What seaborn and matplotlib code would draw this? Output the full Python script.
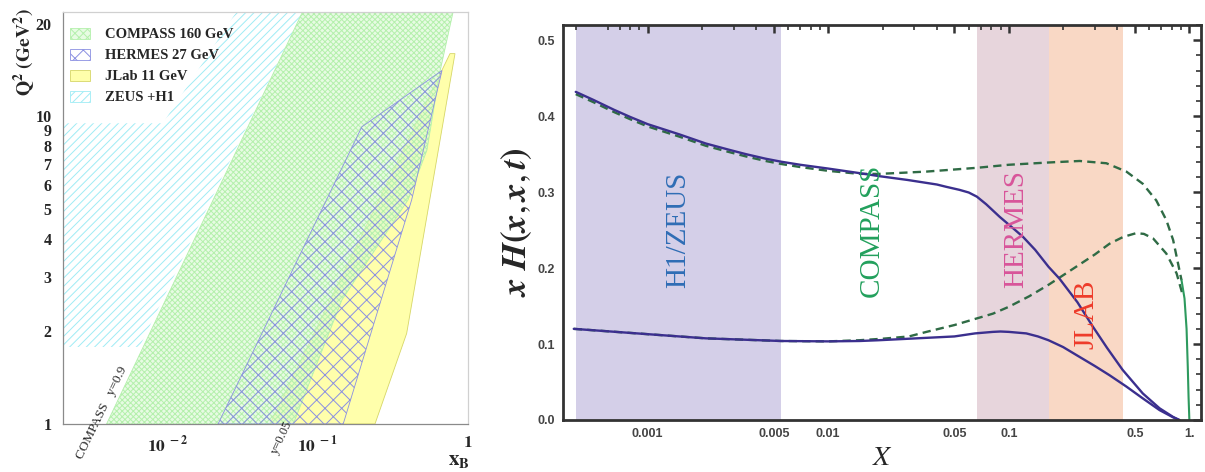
import numpy as np
import pandas as pd
import matplotlib
matplotlib.use("Agg")
import matplotlib.pyplot as plt
from matplotlib.patches import Polygon, Patch
from matplotlib.ticker import FixedLocator, NullFormatter, MultipleLocator
import seaborn as sns

# ---------------- left panel: kinematic coverage (x_B, Q^2) ----------------
zeus_x = [0.002, 0.0065, 0.0794, 0.0288, 0.0093, 0.002]
zeus_q2 = [1.78, 1.78, 21.9, 21.9, 9.5, 9.5]

compass_x = [0.00392, 0.0794, 0.80, 0.653, 0.535, 0.40, 0.145, 0.0688]
compass_q2 = [1.0, 21.9, 21.9, 13.96, 7.77, 5.35, 2.53, 1.0]

hermes_x = [0.0217, 0.197, 0.674, 0.423, 0.148]
hermes_q2 = [1.0, 9.25, 14.1, 5.35, 1.0]

jlab_x = [0.0481, 0.762, 0.823, 0.392, 0.241]
jlab_q2 = [1.0, 16.0, 16.0, 1.97, 1.0]

legend_labels = ["COMPASS 160 GeV", "HERMES 27 GeV", "JLab 11 GeV", "ZEUS +H1"]

# ---------------- right panel: x H(x,x,t) ----------------
bands = {"H1/ZEUS": (4.0e-4, 0.0055), "HERMES": (0.0666, 0.166), "JLAB": (0.166, 0.427)}

up_x = [4.0e-4, 5e-4, 6.5e-4, 8e-4, 0.001, 0.0015, 0.0021, 0.0028, 0.0035, 0.0045,
        0.0055, 0.007, 0.01, 0.0149, 0.0192, 0.0275, 0.04, 0.045, 0.0533, 0.06,
        0.0666, 0.075, 0.089, 0.105, 0.12, 0.14, 0.166, 0.191, 0.24, 0.292,
        0.35, 0.427, 0.552, 0.684, 0.813, 0.88]
up_y = [0.432, 0.4215, 0.4085, 0.399, 0.3895, 0.376, 0.364, 0.356, 0.350, 0.344,
        0.340, 0.336, 0.331, 0.325, 0.321, 0.316, 0.310, 0.307, 0.303, 0.2995,
        0.294, 0.284, 0.2675, 0.253, 0.241, 0.224, 0.2017, 0.186, 0.155, 0.123,
        0.095, 0.066, 0.035, 0.0154, 0.004, 0.0]

up_dash_x = [4.0e-4, 5e-4, 6.5e-4, 8e-4, 0.001, 0.0015, 0.0021, 0.0028, 0.0035, 0.0045,
             0.0055, 0.007, 0.01, 0.0149, 0.0192, 0.0349, 0.0666, 0.1, 0.166, 0.247,
             0.347, 0.448, 0.552, 0.656, 0.746, 0.813, 0.905]
up_dash_y = [0.429, 0.4185, 0.4055, 0.396, 0.3865, 0.373, 0.361, 0.353, 0.347, 0.341,
             0.337, 0.333, 0.328, 0.324, 0.324, 0.327, 0.332, 0.336, 0.339, 0.341,
             0.338, 0.327, 0.311, 0.289, 0.263, 0.237, 0.184]

low_x = [3.9e-4, 0.001, 0.0021, 0.0055, 0.01, 0.0149, 0.019, 0.028, 0.05, 0.065,
         0.0817, 0.09, 0.1, 0.125, 0.145, 0.166, 0.2, 0.237, 0.3, 0.361,
         0.448, 0.552, 0.684, 0.813, 0.88]
low_y = [0.120, 0.113, 0.1075, 0.104, 0.1035, 0.104, 0.105, 0.107, 0.110, 0.114,
         0.116, 0.1165, 0.116, 0.114, 0.110, 0.105, 0.096, 0.0855, 0.071, 0.059,
         0.044, 0.0285, 0.013, 0.0035, 0.0]

low_dash_x = [3.9e-4, 0.001, 0.0021, 0.0055, 0.01, 0.0149, 0.02, 0.028, 0.035, 0.05,
              0.0817, 0.1, 0.13, 0.166, 0.237, 0.3, 0.361, 0.43, 0.508, 0.56,
              0.63, 0.746, 0.85, 0.925]
low_dash_y = [0.120, 0.113, 0.1075, 0.104, 0.1035, 0.105, 0.107, 0.110, 0.116, 0.125,
              0.140, 0.149, 0.163, 0.178, 0.202, 0.218, 0.232, 0.241, 0.246, 0.245,
              0.239, 0.219, 0.193, 0.162]

end_x = [0.905, 0.94, 0.965, 0.98, 0.99, 1.0]
end_y = [0.184, 0.160, 0.120, 0.070, 0.030, 0.0]

band_colors = {"H1/ZEUS": "#d4cfe8", "HERMES": "#e7d5dc", "JLAB": "#f9d8c5"}
labels = [("H1/ZEUS", 0.00147, 0.25, "#2f6db5"),
          ("COMPASS", 0.0175, 0.25, "#22a05c"),
          ("HERMES", 0.110, 0.251, "#d8559a"),
          ("JLAB", 0.268, 0.139, "#ee3b2a")]

sns.set_theme(style="white")
plt.rcParams["font.family"] = ["Liberation Serif", "DejaVu Serif"]
plt.rcParams["mathtext.fontset"] = "stix"
plt.rcParams["hatch.linewidth"] = 0.7

W, H = 1205, 472
fig = plt.figure(figsize=(W / 100, H / 100), dpi=100)


def px_box(x0, y0, x1, y1):
    return [x0 / W, 1 - y1 / H, (x1 - x0) / W, (y1 - y0) / H]


# ---------- left ----------
axl = fig.add_axes(px_box(62.7, 11.7, 467.7, 424))
axl.set_xscale("log")
axl.set_yscale("log")
axl.set_xlim(0.002, 1)
axl.set_ylim(1, 21.9)

styles = {
    "zeus": dict(facecolor="none", edgecolor="#9fecf5", hatch="////", linewidth=0),
    "jlab": dict(facecolor="#ffff9c", edgecolor="#cfcf55", alpha=0.85, linewidth=0.6),
    "compass": dict(facecolor=(0.86, 0.98, 0.83, 0.65), edgecolor="#b4f0ac", hatch="xxxxxx", linewidth=0.6),
    "hermes": dict(facecolor="none", edgecolor="#8a8fe2", hatch="xx", linewidth=0.6),
}
for key, xs, qs in [("zeus", zeus_x, zeus_q2), ("jlab", jlab_x, jlab_q2),
                    ("compass", compass_x, compass_q2), ("hermes", hermes_x, hermes_q2)]:
    axl.add_patch(Polygon(np.column_stack([xs, qs]), closed=True, **styles[key]))

for s in ["top", "right"]:
    axl.spines[s].set_color("#d0d0d0")
for s in ["left", "bottom"]:
    axl.spines[s].set_color("#8a8a8a")
for s in axl.spines.values():
    s.set_linewidth(0.9)

axl.set_yticks([1, 10], labels=["1", "10"])
axl.set_yticks([2, 3, 4, 5, 6, 7, 8, 9, 20], minor=True,
               labels=["2", "3", "4", "5", "6", "7", "8", "9", "20"])
axl.set_xticks([0.01, 0.1, 1], labels=[r"$\mathbf{10^{\ -2}}$", r"$\mathbf{10^{\ -1}}$", r"$\mathbf{1}$"])
xminor = [m * 10.0 ** k for k in (-3, -2, -1) for m in range(2, 10) if 0.002 <= m * 10.0 ** k <= 1]
axl.xaxis.set_minor_locator(FixedLocator(xminor))
axl.xaxis.set_minor_formatter(NullFormatter())
axl.tick_params(axis="y", which="major", direction="in", length=16, width=0.8, color="#999999", pad=8)
axl.tick_params(axis="y", which="minor", direction="in", length=8, width=0.8, color="#999999", pad=8)
axl.tick_params(axis="x", which="major", direction="in", length=17, width=0.8, color="#bbbbbb", pad=8)
axl.tick_params(axis="x", which="minor", direction="in", length=8, width=0.8, color="#bbbbbb")
for lab in axl.get_yticklabels(which="both"):
    lab.set_fontweight("bold")
    lab.set_fontsize(11.5)
for lab in axl.get_xticklabels():
    lab.set_fontsize(12.5)

handles = [Patch(**{k: v for k, v in styles[s].items() if k != "linewidth"}, linewidth=0.6)
           for s in ["compass", "hermes", "jlab", "zeus"]]
handles[0].set_hatch("xxxx")
leg = axl.legend(handles, legend_labels, loc="upper left", bbox_to_anchor=(70 / W, 1 - 28 / H),
                 bbox_transform=fig.transFigure, frameon=False, borderpad=0, borderaxespad=0,
                 handlelength=1.4, handleheight=0.75, handletextpad=1.0, labelspacing=0.52,
                 prop={"family": "Liberation Serif", "weight": "bold", "size": 10.5})

fig.text(24 / W, 1 - 52 / H, r"$\mathbf{Q^2\ (GeV^2)}$", rotation=90, ha="center", va="center", fontsize=14)
fig.text(459 / W, 1 - 461 / H, r"$\mathbf{x_B}$", ha="center", va="center", fontsize=15)
fig.text(102 / W, 1 - 413 / H, "COMPASS   y=0.9", rotation=64, ha="center", va="center", fontsize=9.5)
fig.text(282 / W, 1 - 437 / H, "y=0.05", rotation=65, ha="center", va="center", fontsize=9)

# ---------- right ----------
axr = fig.add_axes(px_box(563, 25, 1201, 420))
axr.set_xscale("log")
axr.set_xlim(3.4e-4, 1.16)
axr.set_ylim(0, 0.52)

for name, (a, b) in bands.items():
    axr.axvspan(a, b, color=band_colors[name], lw=0, zorder=0)

dash_kw = dict(color="#2f6b45", linewidth=1.7, sort=False, estimator=None, ax=axr)
sns.lineplot(x=up_dash_x, y=up_dash_y, linestyle=(0, (3.5, 2.2)), **dash_kw)
sns.lineplot(x=low_dash_x, y=low_dash_y, linestyle=(0, (3.5, 2.2)), **dash_kw)
sns.lineplot(x=end_x, y=end_y, color="#2e9a5e", linewidth=1.5, sort=False, estimator=None, ax=axr)
solid_kw = dict(color="#3b2f8e", linewidth=1.7, sort=False, estimator=None, ax=axr)
sns.lineplot(x=up_x, y=up_y, **solid_kw)
sns.lineplot(x=low_x, y=low_y, **solid_kw)

for text, x, y, c in labels:
    axr.text(x, y, text, rotation=90, ha="center", va="center", color=c, fontsize=21,
             family="Liberation Serif")

axr.set_xticks([0.001, 0.005, 0.01, 0.05, 0.1, 0.5, 1],
               labels=["0.001", "0.005", "0.01", "0.05", "0.1", "0.5", "1."])
rminor = [m * 10.0 ** k for k in (-4, -3, -2, -1, 0) for m in (2, 3, 4, 6, 7, 8, 9)
          if 3.4e-4 <= m * 10.0 ** k <= 1.16]
axr.xaxis.set_minor_locator(FixedLocator(rminor))
axr.xaxis.set_minor_formatter(NullFormatter())
axr.set_yticks([0.0, 0.1, 0.2, 0.3, 0.4, 0.5])
axr.yaxis.set_minor_locator(MultipleLocator(0.02))
axr.tick_params(which="major", direction="in", length=6, width=1.8, color="#333333",
                top=True, right=True, labelsize=9, labelcolor="#444444", pad=6)
axr.tick_params(which="minor", direction="in", length=3.5, width=1.2, color="#333333",
                top=True, right=True)
for lab in axr.get_xticklabels() + axr.get_yticklabels():
    lab.set_family("Liberation Sans")
    lab.set_fontweight("bold")
for s in axr.spines.values():
    s.set_color("#333333")
    s.set_linewidth(2)

axr.set_ylabel(r"$\boldsymbol{x\ H(x,x,t)}$", fontsize=25, labelpad=2)
axr.set_xlabel(r"$X$", fontsize=20, labelpad=4)

fig.savefig("out.png", dpi=100)
